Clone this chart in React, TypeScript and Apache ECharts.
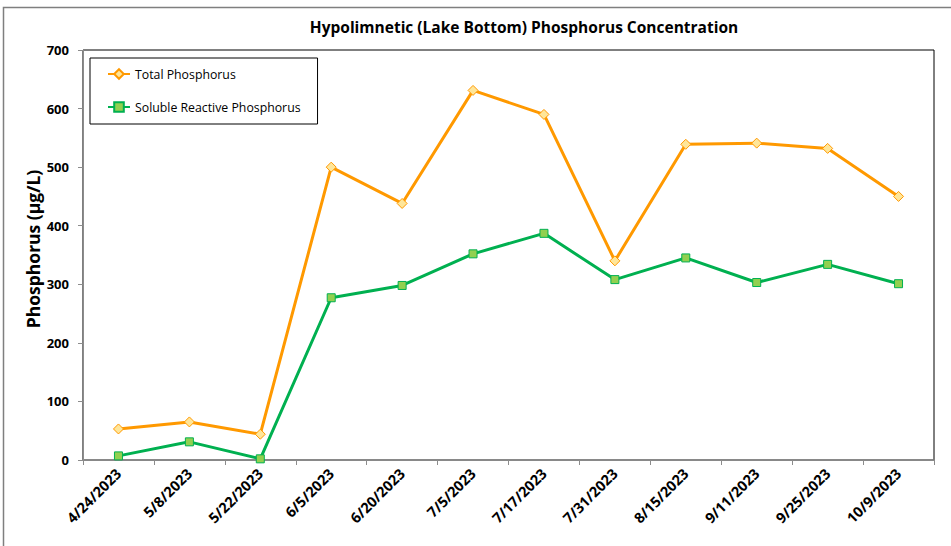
import React, { useEffect, useRef } from "react";
import * as echarts from "echarts";

const categories = ["4/24/2023", "5/8/2023", "5/22/2023", "6/5/2023", "6/20/2023", "7/5/2023", "7/17/2023", "7/31/2023", "8/15/2023", "9/11/2023", "9/25/2023", "10/9/2023"];
const totalPhosphorus = [53, 65, 44, 500, 438, 631, 590, 340, 539, 541, 532, 450];
const solubleReactive = [7, 31, 2, 277, 298, 352, 387, 308, 345, 303, 334, 301];
const yTicks = { min: 0, max: 700, interval: 100 };
const yAxisTitle = "Phosphorus (\u00b5g/L)";

const FONT = "'Open Sans', 'Noto Sans', sans-serif";

export default function App() {
  const ref = useRef<HTMLDivElement>(null);
  useEffect(() => {
    document.body.style.margin = "0";
    const chart = echarts.init(ref.current!, undefined, { renderer: "svg" });
    chart.setOption({
      animation: false,
      backgroundColor: "#fff",
      textStyle: { fontFamily: FONT },
      title: {
        text: "Hypolimnetic (Lake Bottom) Phosphorus Concentration",
        left: 519,
        top: 14,
        textAlign: "center",
        textStyle: { fontFamily: FONT, fontWeight: "bold", fontSize: 15.5, color: "#000" },
      },
      graphic: [
        {
          type: "rect",
          shape: { x: 3.5, y: 7.5, width: 960, height: 560 },
          style: { fill: "none", stroke: "#7f7f7f", lineWidth: 1.5 },
          silent: true,
          z: -1,
        },
        {
          type: "text",
          x: 33,
          y: 249,
          rotation: Math.PI / 2,
          style: {
            text: yAxisTitle,
            fontFamily: FONT,
            fontWeight: "bold",
            fontSize: 17.5,
            fill: "#000",
            align: "center",
            verticalAlign: "middle",
          },
          silent: true,
        },
      ],
      legend: {
        orient: "vertical",
        left: 90,
        top: 58,
        padding: [10, 17, 11, 17],
        itemGap: 21,
        itemWidth: 22,
        itemHeight: 12,
        borderColor: "#000",
        borderWidth: 1,
        backgroundColor: "#fff",
        textStyle: { fontFamily: FONT, fontSize: 12.3, color: "#000" },
        data: ["Total Phosphorus", "Soluble Reactive Phosphorus"],
      },
      grid: {
        left: 83,
        right: 17,
        top: 50,
        bottom: 86,
        show: true,
        borderColor: "#000",
        borderWidth: 1,
      },
      xAxis: {
        type: "category",
        data: categories,
        boundaryGap: true,
        axisLine: { lineStyle: { color: "#8c8c8c", width: 1.5 } },
        axisTick: { show: true, length: 5, alignWithLabel: false, lineStyle: { color: "#8c8c8c" } },
        axisLabel: {
          rotate: 45,
          interval: 0,
          margin: 11,
          fontFamily: FONT,
          fontWeight: "bold",
          fontSize: 14.5,
          color: "#000",
        },
      },
      yAxis: {
        type: "value",
        min: yTicks.min,
        max: yTicks.max,
        interval: yTicks.interval,
        axisLine: { show: true, lineStyle: { color: "#8c8c8c", width: 1 } },
        axisTick: { show: true, length: 5, lineStyle: { color: "#8c8c8c" } },
        splitLine: { show: false },
        axisLabel: {
          margin: 14,
          fontFamily: FONT,
          fontWeight: "bold",
          fontSize: 13,
          color: "#000",
        },
      },
      series: [
        {
          name: "Total Phosphorus",
          type: "line",
          data: totalPhosphorus,
          symbol: "diamond",
          symbolSize: 10,
          lineStyle: { color: "#FF9900", width: 3 },
          itemStyle: { color: "#FFE699", borderColor: "#FF9900", borderWidth: 1 },
          z: 3,
        },
        {
          name: "Soluble Reactive Phosphorus",
          type: "line",
          data: solubleReactive,
          symbol: "rect",
          symbolSize: 8,
          lineStyle: { color: "#00B050", width: 3 },
          itemStyle: { color: "#92D050", borderColor: "#00B050", borderWidth: 1 },
          z: 2,
        },
      ],
    });
    return () => chart.dispose();
  }, []);
  return <div ref={ref} style={{ position: "absolute", left: 0, top: 0, width: 951, height: 546 }} />;
}
